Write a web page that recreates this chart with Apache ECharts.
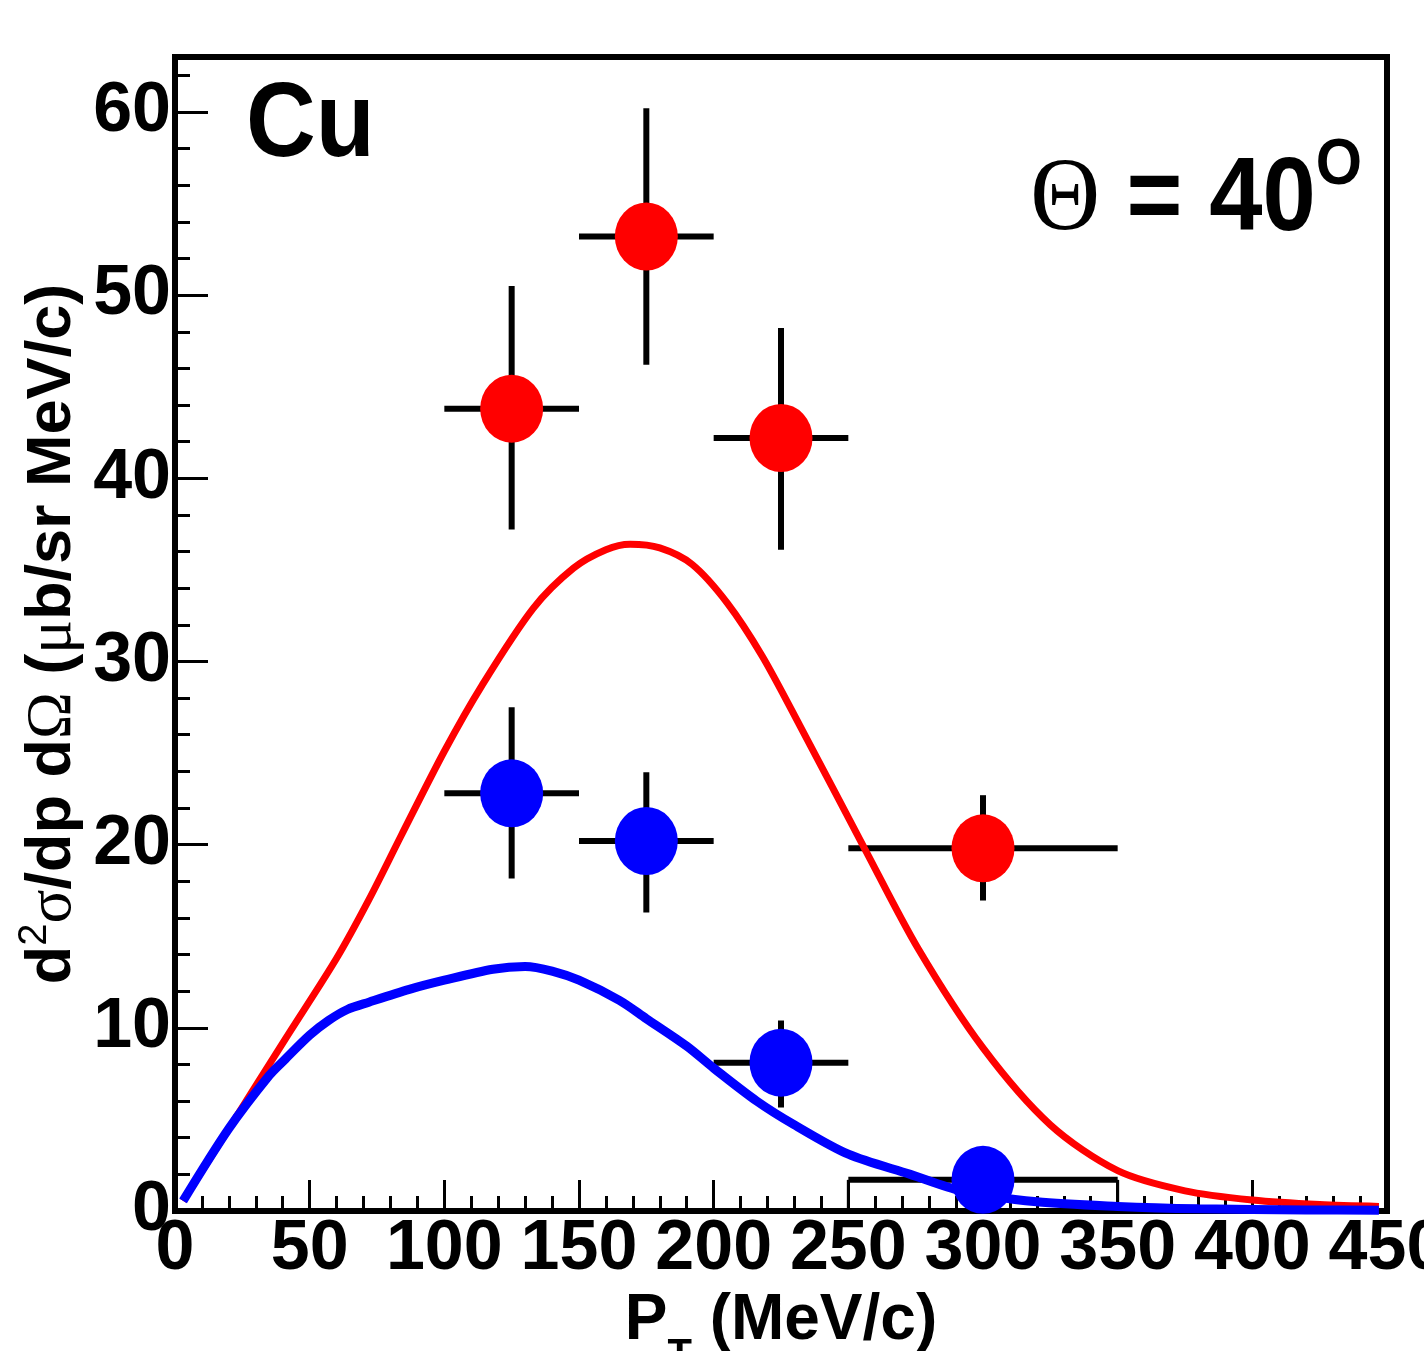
<!DOCTYPE html>
<html>
<head>
<meta charset="utf-8">
<script src="https://cdn.jsdelivr.net/npm/echarts@6/dist/echarts.min.js"></script>
<style>
html,body{margin:0;padding:0;background:#fff;}
#chart{width:1424px;height:1351px;}
</style>
</head>
<body>
<div id="chart"></div>
<script>
// ---- data ----
const xTicks = [0, 50, 100, 150, 200, 250, 300, 350, 400, 450];
const yTicks = [0, 10, 20, 30, 40, 50, 60];
// red data points: x, y, half-width of bin, lower, upper
const redX = [125, 175, 225, 300];
const redY = [43.8, 53.2, 42.2, 19.8];
const redXErr = [25, 25, 25, 50];
const redYLow = [37.2, 46.2, 36.1, 16.95];
const redYHigh = [50.5, 60.2, 48.2, 22.7];
// blue data points
const blueX = [125, 175, 225, 300];
const blueY = [22.8, 20.2, 8.1, 1.7];
const blueXErr = [25, 25, 25, 50];
const blueYLow = [18.15, 16.3, 5.65, 1.7];
const blueYHigh = [27.5, 23.95, 10.4, 1.7];
// box edges around the last blue bin (x, from, to)
const blueBoxEdges = [[250, 0, 1.7], [350, 0, 1.7]];
// model curves
const redCurve = [[3,0.55],[20,4.5],[41,9.4],[60,13.8],[72,17.0],[84,20.5],[100,25.1],[114,28.7],[133,32.9],[148,35.1],[160,36.1],[169,36.4],[180,36.2],[192,35.3],[205,33.2],[218,30.3],[232,26.5],[256,19.8],[276,14.3],[300,8.9],[325,4.7],[350,2.2],[375,1.1],[400,0.6],[425,0.35],[447,0.25]];
const blueCurve = [[3,0.55],[20,4.5],[35,7.4],[41,8.3],[50,9.6],[57,10.4],[64,11.0],[72,11.4],[87,12.1],[100,12.6],[118,13.2],[130,13.35],[140,13.1],[150,12.6],[165,11.5],[175,10.5],[190,9.0],[200,7.8],[216,6.0],[230,4.7],[250,3.1],[273,2.0],[292,1.1],[320,0.5],[350,0.25],[380,0.12],[420,0.06],[447,0.04]];

const SANS = "'Liberation Sans',Arial,Helvetica,sans-serif";
const SERIF = "'Liberation Serif','DejaVu Serif',serif";

function errData(xs, ys, xe, lo, hi) {
  return xs.map((x, i) => [x, ys[i], xe[i], lo[i], hi[i]]);
}
function errRender(params, api) {
  const x = api.value(0), y = api.value(1), xe = api.value(2), lo = api.value(3), hi = api.value(4);
  const pl = api.coord([x - xe, y]), pr = api.coord([x + xe, y]);
  const pt = api.coord([x, hi]), pb = api.coord([x, lo]);
  const st = {stroke: '#000', lineWidth: 6};
  return {type: 'group', children: [
    {type: 'line', shape: {x1: pl[0], y1: pl[1], x2: pr[0], y2: pr[1]}, style: st},
    {type: 'line', shape: {x1: pt[0], y1: pt[1], x2: pb[0], y2: pb[1]}, style: st}
  ]};
}
function edgeRender(params, api) {
  const x = api.value(0), a = api.value(1), b = api.value(2);
  const p1 = api.coord([x, a]), p2 = api.coord([x, b]);
  return {type: 'line', shape: {x1: p1[0], y1: p1[1], x2: p2[0], y2: p2[1]}, style: {stroke: '#000', lineWidth: 3}};
}

const chart = echarts.init(document.getElementById('chart'), null, {renderer: 'canvas'});
const labelStyle = {color: '#000', fontFamily: SANS, fontWeight: 'bold', fontSize: 70};

const option = {
  backgroundColor: '#fff',
  animation: false,
  grid: {left: 175, top: 57, width: 1212, height: 1154, outerBoundsMode: 'none', containLabel: false,
    show: true, borderColor: '#000', borderWidth: 6, backgroundColor: 'transparent'},
  xAxis: [{
    type: 'value', min: 0, max: 450, interval: 50,
    axisLine: {show: true, onZero: false, lineStyle: {color: '#000', width: 6}},
    axisTick: {show: true, inside: true, length: 31, lineStyle: {color: '#000', width: 3}},
    minorTick: {show: true, splitNumber: 5, length: 15, lineStyle: {color: '#000', width: 3}},
    splitLine: {show: false},
    axisLabel: Object.assign({margin: 4, hideOverlap: false, formatter: v => xTicks.includes(v) ? String(v) : ''}, labelStyle),
    name: '{p|P}{s|T}{n| (MeV/c)}',
    nameLocation: 'middle', nameGap: 55, nameMoveOverlap: false,
    nameTextStyle: {
      rich: {
        p: {fontFamily: SANS, fontWeight: 'bold', fontSize: 64, color: '#000', lineHeight: 110},
        n: {fontFamily: SANS, fontWeight: 'bold', fontSize: 64, color: '#000', lineHeight: 110},
        s: {fontFamily: SANS, fontWeight: 'bold', fontSize: 40, color: '#000', lineHeight: 40, verticalAlign: 'bottom'}
      }
    }
  }],
  yAxis: [{
    type: 'value', min: 0, max: 63, interval: 10,
    axisLine: {show: true, onZero: false, lineStyle: {color: '#000', width: 6}},
    axisTick: {show: true, inside: true, length: 33, lineStyle: {color: '#000', width: 3}},
    splitLine: {show: false},
    axisLabel: Object.assign({margin: 4, showMaxLabel: false, hideOverlap: false, formatter: v => yTicks.includes(v) ? String(v) : ''}, labelStyle),
    name: '{b|d}{sup|2}{g|σ}{b|/dp d}{g|Ω}{b| (}{g|μ}{b|b/sr MeV/c)}',
    nameLocation: 'middle', nameGap: 84, nameRotate: 90, nameMoveOverlap: false,
    nameTextStyle: {
      rich: {
        b: {fontFamily: SANS, fontWeight: 'bold', fontSize: 63, color: '#000', lineHeight: 76},
        g: {fontFamily: SERIF, fontWeight: 'normal', fontSize: 63, color: '#000', lineHeight: 76},
        sup: {fontFamily: SANS, fontWeight: 'normal', fontSize: 40, color: '#000', lineHeight: 40, verticalAlign: 'top'}
      }
    }
  }, {
    type: 'value', min: 0, max: 63, interval: 2, position: 'left',
    axisLine: {show: false},
    axisTick: {show: true, inside: true, length: 15, lineStyle: {color: '#000', width: 3}},
    splitLine: {show: false},
    axisLabel: {show: false}
  }],
  graphic: [
    {type: 'text', x: 246, y: 75, scaleX: 0.92, z: 10,
      style: {text: 'Cu', x: 0, y: 0, align: 'left', verticalAlign: 'top',
        fontFamily: SANS, fontWeight: 'bold', fontSize: 105, fill: '#000'}},
    {type: 'text', x: 1362, y: 134, scaleX: 0.93, z: 10,
      style: {text: '{th|Θ}{t| = 40}{o|O}', x: 0, y: 0, align: 'right', verticalAlign: 'top',
        rich: {
          th: {fontFamily: SERIF, fontWeight: 'normal', fontSize: 104, fill: '#000', lineHeight: 136},
          t: {fontFamily: SANS, fontWeight: 'bold', fontSize: 103, fill: '#000', lineHeight: 136},
          o: {fontFamily: SANS, fontWeight: 'bold', fontSize: 64, fill: '#000', lineHeight: 64, verticalAlign: 'top'}
        }}}
  ],
  series: [
    {type: 'custom', name: 'redErr', renderItem: errRender, data: errData(redX, redY, redXErr, redYLow, redYHigh), z: 2, silent: true},
    {type: 'custom', name: 'blueErr', renderItem: errRender, data: errData(blueX, blueY, blueXErr, blueYLow, blueYHigh), z: 2, silent: true},
    {type: 'custom', name: 'blueBox', renderItem: edgeRender, data: blueBoxEdges, z: 2, silent: true},
    {type: 'line', name: 'redModel', data: redCurve, showSymbol: false, smooth: 0.3, z: 3,
      lineStyle: {color: '#ff0000', width: 7}},
    {type: 'line', name: 'blueModel', data: blueCurve, showSymbol: false, smooth: 0.3, z: 4,
      lineStyle: {color: '#0000ff', width: 9}},
    {type: 'scatter', name: 'red', data: redX.map((x, i) => [x, redY[i]]), symbol: 'circle', symbolSize: [63, 68], z: 5,
      itemStyle: {color: '#ff0000', opacity: 1}},
    {type: 'scatter', name: 'blue', data: blueX.map((x, i) => [x, blueY[i]]), symbol: 'circle', symbolSize: [63, 68], z: 5,
      itemStyle: {color: '#0000ff', opacity: 1}}
  ]
};
chart.setOption(option);
</script>
</body>
</html>
